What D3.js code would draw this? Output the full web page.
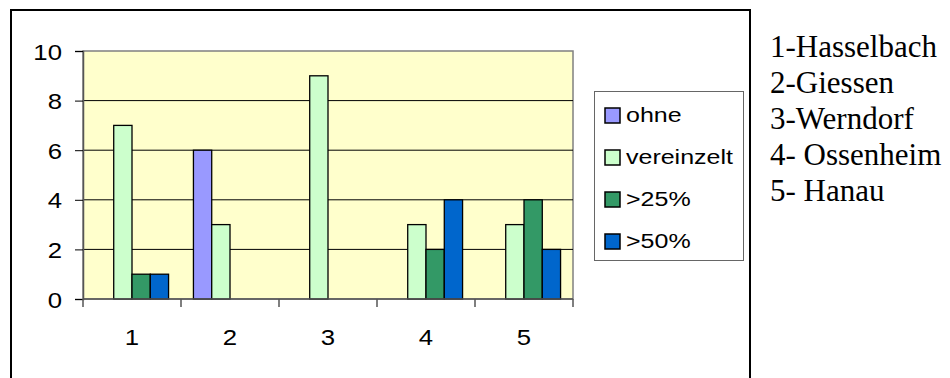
<!DOCTYPE html>
<html><head><meta charset="utf-8">
<script src="https://cdn.jsdelivr.net/npm/d3@7"></script>
<style>body{margin:0;background:#fff}svg{display:block}</style>
</head><body>
<svg id="c" width="950" height="378"></svg>
<script>
const categories = ["1","2","3","4","5"];
const seriesNames = ["ohne","vereinzelt",">25%",">50%"];
const ohne = [0,6,0,0,0];
const vereinzelt = [7,3,9,3,3];
const over25 = [1,0,0,2,4];
const over50 = [1,0,0,4,2];
const yTicks = [0,2,4,6,8,10];
const places = ["1-Hasselbach","2-Giessen","3-Werndorf","4- Ossenheim","5- Hanau"];
const colors = ["#9999FF","#CCFFCC","#339966","#0066CC"];
const seriesValues = [ohne, vereinzelt, over25, over50];

const svg = d3.select("#c");
const L = 83, R = 573, T = 51, B = 299;

// outer frame
svg.append("path").attr("d","M11,378 L11,10 L750,10 L750,378")
  .attr("fill","none").attr("stroke","#000").attr("stroke-width",2);

const x0 = d3.scaleBand().domain(categories).range([L,R]).padding(0);
const x1 = d3.scaleBand().domain(seriesNames).range([0,x0.bandwidth()]).paddingInner(0).paddingOuter(0.68);
const y = d3.scaleLinear().domain([0,10]).range([B,T]);

// plot area
svg.append("rect").attr("x",L).attr("y",T).attr("width",R-L).attr("height",B-T)
  .attr("fill","#FFFFCC").attr("stroke","#808080").attr("stroke-width",1.5);

// gridlines
svg.append("g").selectAll("line").data(yTicks.filter(d=>d>0 && d<10)).join("line")
  .attr("x1",L).attr("x2",R).attr("y1",d=>y(d)).attr("y2",d=>y(d))
  .attr("stroke","#000").attr("stroke-width",1);

// bars
const g = svg.append("g");
categories.forEach((c,i)=>{
  seriesNames.forEach((s,j)=>{
    const v = seriesValues[j][i];
    if (v <= 0) return;
    g.append("rect")
      .attr("x", x0(c)+x1(s)).attr("y", y(v))
      .attr("width", x1.bandwidth()).attr("height", y(0)-y(v))
      .attr("fill", colors[j]).attr("stroke","#000").attr("stroke-width",1.3);
  });
});

// y axis
const yAxis = d3.axisLeft(y).tickValues(yTicks).tickSize(8).tickPadding(0).tickFormat(d3.format("d"));
const ya = svg.append("g").attr("transform",`translate(${L},0)`).call(yAxis);
ya.select(".domain").attr("stroke","#555").attr("stroke-width",1.5);
ya.selectAll(".tick line").attr("stroke","#000");
ya.selectAll(".tick text").remove();
ya.selectAll(".tick").append("text")
  .attr("transform","translate(-21,0) scale(1.12,1)")
  .attr("text-anchor","end").attr("dy","0.35em")
  .attr("font-family","Arial, 'Liberation Sans', sans-serif").attr("font-size",23)
  .attr("fill","#000").text(d=>d);

// x axis
const xa = svg.append("g").attr("transform",`translate(0,${B})`);
xa.append("line").attr("x1",L).attr("x2",R).attr("y1",0).attr("y2",0).attr("stroke","#555").attr("stroke-width",1.5);
const bounds = categories.map(c=>x0(c)).concat([R]);
xa.selectAll("line.t").data(bounds).join("line").attr("class","t")
  .attr("x1",d=>d).attr("x2",d=>d).attr("y1",0).attr("y2",8).attr("stroke","#555").attr("stroke-width",1.5);
xa.selectAll("text").data(categories).join("text")
  .attr("transform",d=>`translate(${x0(d)+x0.bandwidth()/2},46) scale(1.12,1)`)
  .attr("text-anchor","middle")
  .attr("font-family","Arial, 'Liberation Sans', sans-serif").attr("font-size",23)
  .attr("fill","#000").text(d=>d);

// legend
const lg = svg.append("g");
lg.append("rect").attr("x",594.5).attr("y",91.5).attr("width",149).attr("height",169)
  .attr("fill","#fff").attr("stroke","#666").attr("stroke-width",1);
seriesNames.forEach((s,j)=>{
  const cy = 115.5 + j*42;
  lg.append("rect").attr("x",605).attr("y",cy-7.5).attr("width",15).attr("height",15)
    .attr("fill",colors[j]).attr("stroke","#000").attr("stroke-width",1.5);
  lg.append("text").attr("transform",`translate(626,${cy+6.5}) scale(1.25,1)`)
    .attr("font-family","Arial, 'Liberation Sans', sans-serif").attr("font-size",20)
    .attr("fill","#000").text(s);
});

// place names
svg.append("g").selectAll("text").data(places).join("text")
  .attr("x",770).attr("y",(d,i)=>57+i*36)
  .attr("font-family","'Times New Roman', 'Liberation Serif', serif").attr("font-size",31)
  .attr("fill","#000").text(d=>d);
</script>
</body></html>
